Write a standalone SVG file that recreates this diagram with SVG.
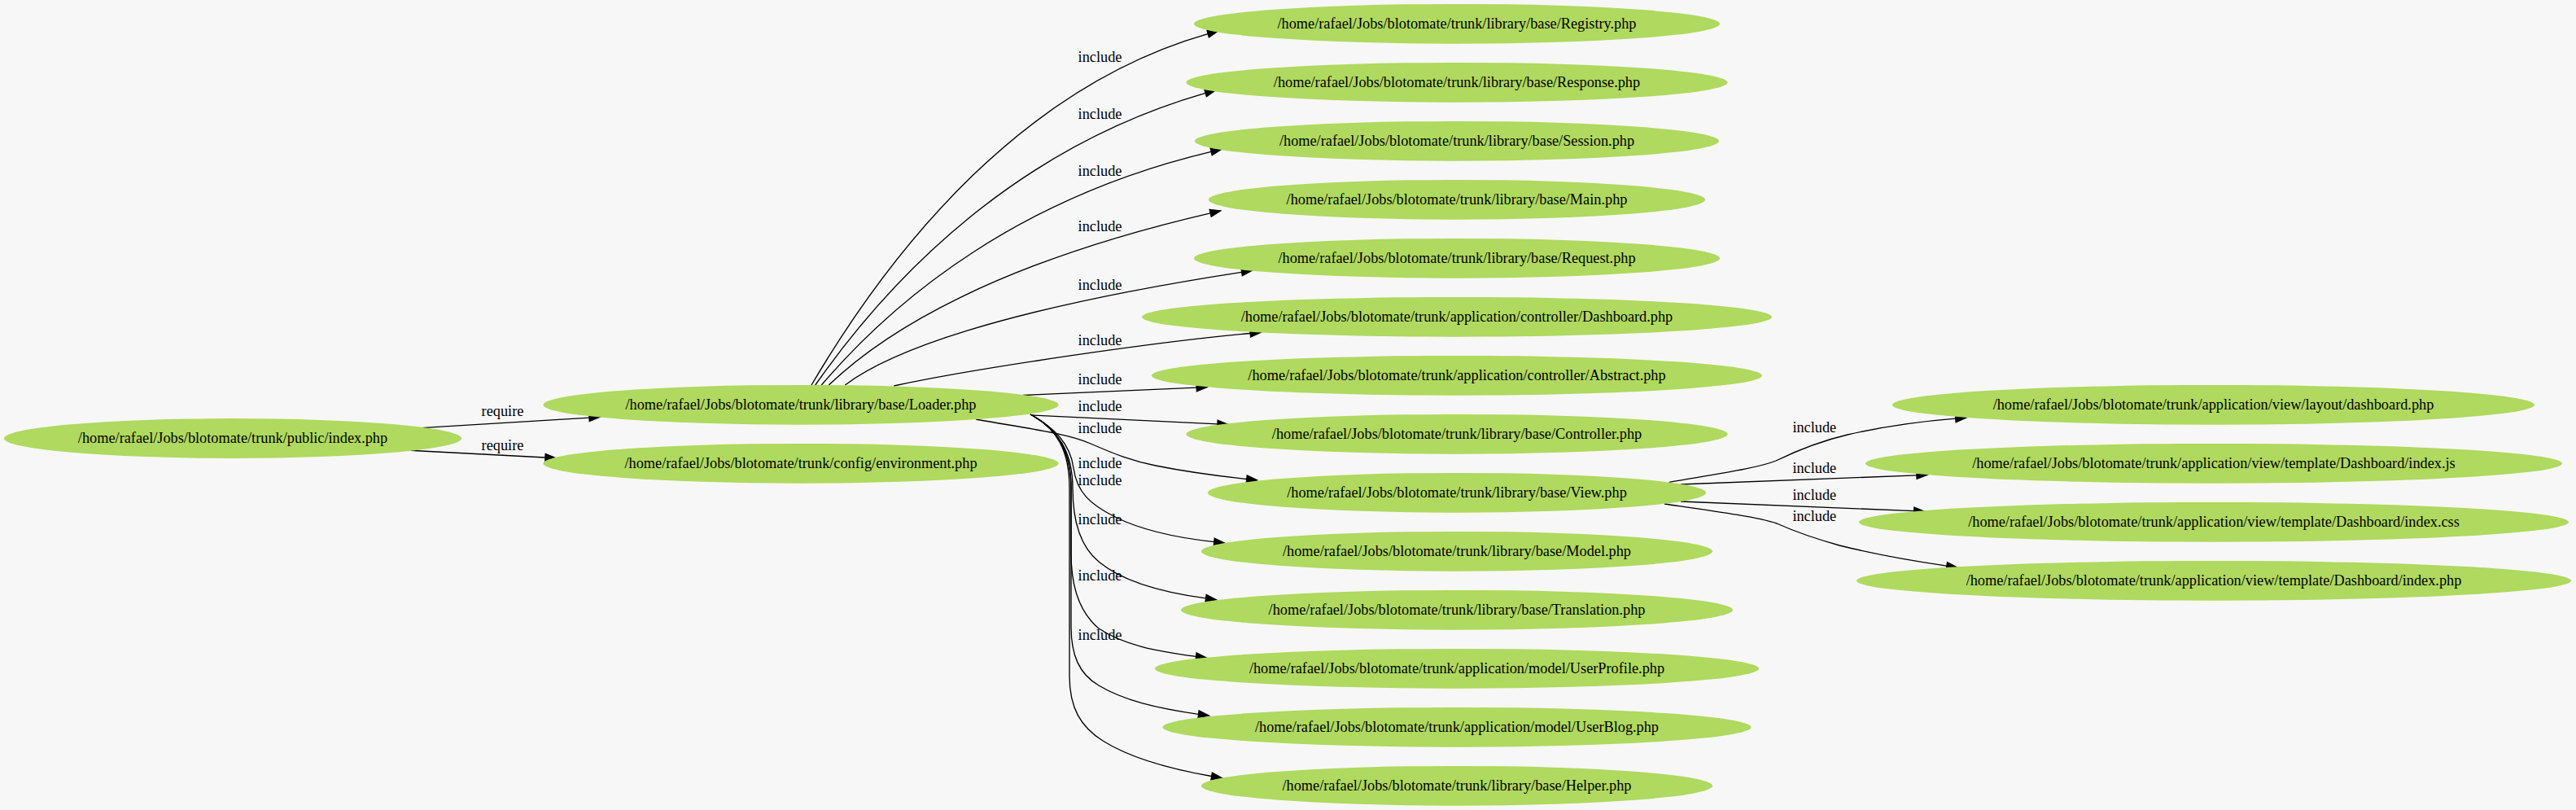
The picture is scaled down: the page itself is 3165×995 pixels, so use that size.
<svg xmlns="http://www.w3.org/2000/svg" width="3165" height="995" viewBox="0 0 3165 995">
<style>
.n ellipse{fill:#afd95f;stroke:none}
.n text{font-family:"Liberation Serif","Times New Roman",serif;font-size:18.3px;fill:#000;text-anchor:middle}
.e path{fill:none;stroke:#000;stroke-width:1.35;marker-end:url(#ah)}
.l text{font-family:"Liberation Serif","Times New Roman",serif;font-size:18.3px;fill:#000;text-anchor:middle}
</style>
<defs>
<marker id="ah" markerWidth="14" markerHeight="10" refX="0" refY="4.75" orient="auto" markerUnits="userSpaceOnUse" overflow="visible"><path d="M0,0 L13.5,4.75 L0,9.5 z" fill="#000" stroke="#000" stroke-width="1"/></marker>
</defs>
<rect width="3165" height="995" fill="#f7f7f7"/>
<g id="edges" class="e">
<path d="M517.3,525.7 L723.8,513.1"/>
<path d="M505,553.3 L669.8,562"/>
<path d="M997,473 C1100.5,297.2 1260,105.5 1484,41.7"/>
<path d="M1001.7,473 C1098.3,335 1252.1,180.4 1481,114.4"/>
<path d="M1009.3,473 C1102,364.6 1253.4,242.2 1488,186.4"/>
<path d="M1018.3,473 C1088.6,405.6 1224.5,322.9 1487,261.8"/>
<path d="M1038.3,473 C1091.4,433.2 1220.7,381.6 1525.5,334.4"/>
<path d="M1098.3,474 C1200,452 1420,420 1536,409.5"/>
<path d="M1256.7,485.5 L1470,476.2"/>
<path d="M1268,510 L1495.8,520.8"/>
<path d="M1199,515 C1260,526 1310,532 1340,545 C1370,558 1390,566 1420,572 C1450,578 1490,584 1531.6,588.5"/>
<path d="M1266,509 C1295,525 1315,545 1319,575 C1323,605 1340,620 1370,635 C1400,650 1440,660 1491.6,665.6"/>
<path d="M1266,509 C1300,527 1318,555 1318,600 C1318,640 1328,672 1350,690 C1380,715 1430,728 1481.4,734.9"/>
<path d="M1266,509 C1300,527 1316,555 1316,600 L1316,680 C1316,720 1326,752 1350,772 C1380,792 1420,800 1469.4,806.3"/>
<path d="M1266,509 C1300,527 1316,555 1316,600 L1316,770 C1316,805 1326,828 1350,842 C1380,860 1420,870 1472.4,877.3"/>
<path d="M1266,509 C1300,527 1314,555 1314,600 L1314,830 C1314,870 1328,893 1355,910 C1390,932 1440,945 1488.5,953.5"/>
<path d="M2050.7,592.3 C2110,582 2160,575 2182,566 C2215,550 2240,541 2270,534 C2310,525 2355,518 2402.6,514.2"/>
<path d="M2065,595 L2354.8,583.8"/>
<path d="M2065,616 L2351.5,627.7"/>
<path d="M2045,619 C2100,627 2160,635 2183,643 C2210,655 2235,663 2260,670 C2300,680 2350,689 2391.7,695.1"/>
</g>
<g id="labels" class="l">
<text x="617.5" y="511.3">require</text>
<text x="617.5" y="553">require</text>
<text x="1351.5" y="75.5">include</text>
<text x="1351.5" y="146.2">include</text>
<text x="1351.5" y="216.4">include</text>
<text x="1351.5" y="284.3">include</text>
<text x="1351.5" y="355.5">include</text>
<text x="1351.5" y="423.5">include</text>
<text x="1351.5" y="472">include</text>
<text x="1351.5" y="504.5">include</text>
<text x="1351.5" y="531.5">include</text>
<text x="1351.5" y="574.5">include</text>
<text x="1351.5" y="595.5">include</text>
<text x="1351.5" y="643.6">include</text>
<text x="1351.5" y="712.8">include</text>
<text x="1351.5" y="786.2">include</text>
<text x="2229.3" y="531.3">include</text>
<text x="2229.3" y="580.6">include</text>
<text x="2229.3" y="614">include</text>
<text x="2229.3" y="640.3">include</text>
</g>
<g id="n_index" class="n"><ellipse cx="286" cy="538.5" rx="281" ry="24.4"/><text x="286" y="544">/home/rafael/Jobs/blotomate/trunk/public/index.php</text></g>
<g id="n_loader" class="n"><ellipse cx="984" cy="497.3" rx="316.5" ry="24.4"/><text x="984" y="502.8">/home/rafael/Jobs/blotomate/trunk/library/base/Loader.php</text></g>
<g id="n_environment" class="n"><ellipse cx="984" cy="569.3" rx="316.5" ry="24.4"/><text x="984" y="574.8">/home/rafael/Jobs/blotomate/trunk/config/environment.php</text></g>
<g id="n_registry" class="n"><ellipse cx="1790" cy="29.3" rx="323" ry="24.4"/><text x="1790" y="34.8">/home/rafael/Jobs/blotomate/trunk/library/base/Registry.php</text></g>
<g id="n_response" class="n"><ellipse cx="1790" cy="101.3" rx="332.5" ry="24.4"/><text x="1790" y="106.8">/home/rafael/Jobs/blotomate/trunk/library/base/Response.php</text></g>
<g id="n_session" class="n"><ellipse cx="1790" cy="173.3" rx="322" ry="24.4"/><text x="1790" y="178.8">/home/rafael/Jobs/blotomate/trunk/library/base/Session.php</text></g>
<g id="n_main" class="n"><ellipse cx="1790" cy="245.3" rx="305" ry="24.4"/><text x="1790" y="250.8">/home/rafael/Jobs/blotomate/trunk/library/base/Main.php</text></g>
<g id="n_request" class="n"><ellipse cx="1790" cy="317.3" rx="323" ry="24.4"/><text x="1790" y="322.8">/home/rafael/Jobs/blotomate/trunk/library/base/Request.php</text></g>
<g id="n_ctrl_dashboard" class="n"><ellipse cx="1790" cy="389.3" rx="387" ry="24.4"/><text x="1790" y="394.8">/home/rafael/Jobs/blotomate/trunk/application/controller/Dashboard.php</text></g>
<g id="n_ctrl_abstract" class="n"><ellipse cx="1790" cy="461.3" rx="375" ry="24.4"/><text x="1790" y="466.8">/home/rafael/Jobs/blotomate/trunk/application/controller/Abstract.php</text></g>
<g id="n_controller" class="n"><ellipse cx="1790" cy="533.3" rx="332.5" ry="24.4"/><text x="1790" y="538.8">/home/rafael/Jobs/blotomate/trunk/library/base/Controller.php</text></g>
<g id="n_view" class="n"><ellipse cx="1790" cy="605.3" rx="306" ry="24.4"/><text x="1790" y="610.8">/home/rafael/Jobs/blotomate/trunk/library/base/View.php</text></g>
<g id="n_model" class="n"><ellipse cx="1790" cy="677.3" rx="314" ry="24.4"/><text x="1790" y="682.8">/home/rafael/Jobs/blotomate/trunk/library/base/Model.php</text></g>
<g id="n_translation" class="n"><ellipse cx="1790" cy="749.3" rx="339" ry="24.4"/><text x="1790" y="754.8">/home/rafael/Jobs/blotomate/trunk/library/base/Translation.php</text></g>
<g id="n_userprofile" class="n"><ellipse cx="1790" cy="821.3" rx="371" ry="24.4"/><text x="1790" y="826.8">/home/rafael/Jobs/blotomate/trunk/application/model/UserProfile.php</text></g>
<g id="n_userblog" class="n"><ellipse cx="1790" cy="893.3" rx="361.5" ry="24.4"/><text x="1790" y="898.8">/home/rafael/Jobs/blotomate/trunk/application/model/UserBlog.php</text></g>
<g id="n_helper" class="n"><ellipse cx="1790" cy="965.3" rx="314" ry="24.4"/><text x="1790" y="970.8">/home/rafael/Jobs/blotomate/trunk/library/base/Helper.php</text></g>
<g id="n_layout_dashboard" class="n"><ellipse cx="2719.5" cy="497.3" rx="394.5" ry="24.4"/><text x="2719.5" y="502.8">/home/rafael/Jobs/blotomate/trunk/application/view/layout/dashboard.php</text></g>
<g id="n_tpl_index_js" class="n"><ellipse cx="2720" cy="569.3" rx="428" ry="24.4"/><text x="2720" y="574.8">/home/rafael/Jobs/blotomate/trunk/application/view/template/Dashboard/index.js</text></g>
<g id="n_tpl_index_css" class="n"><ellipse cx="2720" cy="641.3" rx="436" ry="24.4"/><text x="2720" y="646.8">/home/rafael/Jobs/blotomate/trunk/application/view/template/Dashboard/index.css</text></g>
<g id="n_tpl_index_php" class="n"><ellipse cx="2720" cy="713.3" rx="439" ry="24.4"/><text x="2720" y="718.8">/home/rafael/Jobs/blotomate/trunk/application/view/template/Dashboard/index.php</text></g>
</svg>
